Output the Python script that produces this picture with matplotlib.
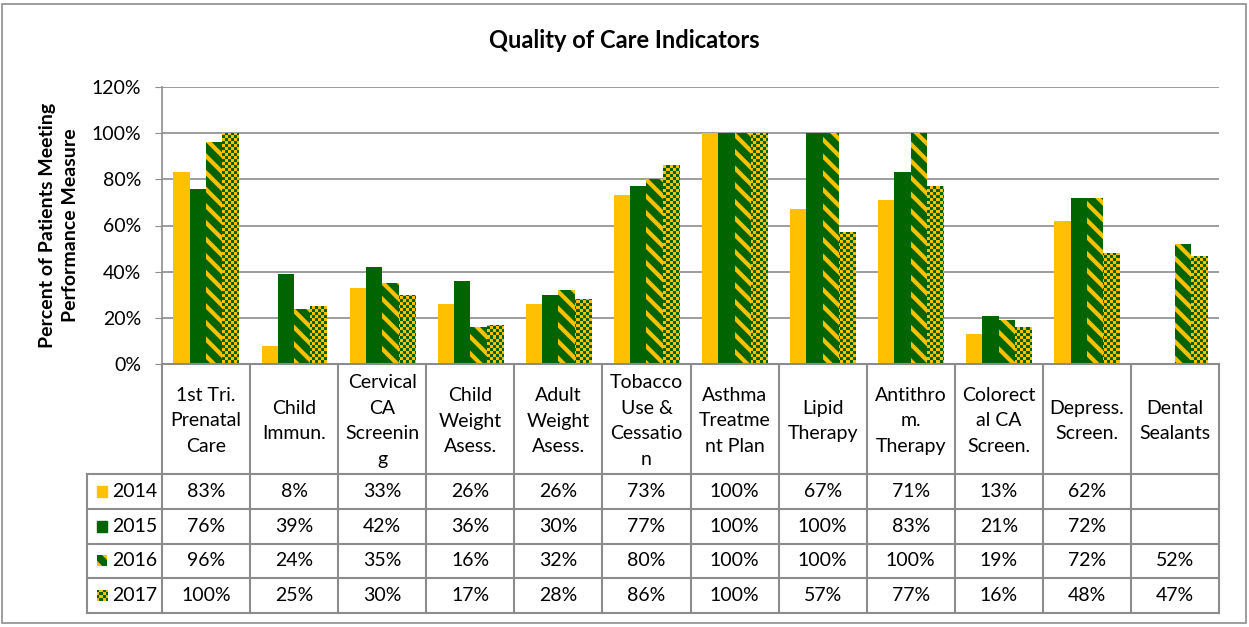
import matplotlib.pyplot as plt
import matplotlib.patches as mpatches
import numpy as np

plt.rcParams['font.family'] = ['Lato', 'DejaVu Sans']
plt.rcParams['hatch.linewidth'] = 3.0

categories = ["1st Tri.\nPrenatal\nCare", "Child\nImmun.", "Cervical\nCA\nScreenin\ng",
              "Child\nWeight\nAsess.", "Adult\nWeight\nAsess.", "Tobacco\nUse &\nCessatio\nn",
              "Asthma\nTreatme\nnt Plan", "Lipid\nTherapy", "Antithro\nm.\nTherapy",
              "Colorect\nal CA\nScreen.", "Depress.\nScreen.", "Dental\nSealants"]
years = ["2014", "2015", "2016", "2017"]
v2014 = [83, 8, 33, 26, 26, 73, 100, 67, 71, 13, 62, None]
v2015 = [76, 39, 42, 36, 30, 77, 100, 100, 83, 21, 72, None]
v2016 = [96, 24, 35, 16, 32, 80, 100, 100, 100, 19, 72, 52]
v2017 = [100, 25, 30, 17, 28, 86, 100, 57, 77, 16, 48, 47]
series = [v2014, v2015, v2016, v2017]

yellow = "#FFC000"
green = "#006400"
styles = [dict(color=yellow), dict(color=green),
          dict(facecolor=green, edgecolor=yellow, hatch="\\\\", linewidth=0),
          dict(color=green, linewidth=0)]

# small checker texture for the 2017 bars
def checker(w, h, cell=3):
    yy, xx = np.mgrid[0:h, 0:w]
    m = ((xx // cell + yy // cell) % 2).astype(bool)
    img = np.zeros((h, w, 3))
    img[m] = [1.0, 0.753, 0.0]
    img[~m] = [0.0, 0.392, 0.0]
    return img

W, H = 1249, 627
fig = plt.figure(figsize=(12.49, 6.27), dpi=100)
fs = 14

# outer frame
fig.patches.append(mpatches.Rectangle((2 / W, 4 / H), 1244 / W, 619 / H, transform=fig.transFigure,
                                      fill=False, edgecolor="#8c8c8c", linewidth=1.2))

# chart area
L, R, T, B = 162, 1219, 87, 364
ax = fig.add_axes([L / W, 1 - B / H, (R - L) / W, (B - T) / H])
n = len(categories)
x = np.arange(n) + 0.5
bw = 0.185
tex = checker(R - L, B - T)
for i, vals in enumerate(series):
    vv = np.array([np.nan if v is None else v for v in vals], dtype=float)
    bars = ax.bar(x + (i - 1.5) * bw, vv, bw, **styles[i], zorder=3)
    if i == 3:
        for b in bars:
            im = ax.imshow(tex, extent=(0, n, 0, 120), aspect="auto",
                           interpolation="nearest", zorder=4)
            im.set_clip_path(b)

ax.set_xlim(0, n)
ax.set_ylim(0, 120)
ax.set_yticks(range(0, 121, 20))
ax.set_yticklabels([f"{t}%" for t in range(0, 121, 20)], fontsize=fs)
ax.set_xticks([])
ax.grid(axis="y", color="#8c8c8c", linewidth=1.2, zorder=0)
ax.tick_params(axis="y", length=5, color="#8c8c8c", pad=10)
for s in ["top", "right", "bottom"]:
    ax.spines[s].set_visible(False)
ax.spines["left"].set_color("#8c8c8c")
ax.spines["left"].set_linewidth(1.2)
ax.set_ylabel("Percent of Patients Meeting\nPerformance Measure", fontsize=14, fontweight="bold",
              labelpad=9, linespacing=1.4)
fig.text(0.5, 1 - 40 / H, "Quality of Care Indicators", ha="center", va="center",
         fontsize=17, fontweight="bold")

# data table below
TL, TB = 87, 613
hdr = 110
rowh = (TB - B - hdr) / 4
tx = fig.add_axes([TL / W, 1 - TB / H, (R - TL) / W, (TB - B) / H])
leg_w = (L - TL) / ((R - L) / n)
lc = "#8c8c8c"
lw = 1.5
tx.plot([0, n], [0, 0], color=lc, lw=lw, clip_on=False)
for r in range(5):
    tx.plot([-leg_w, n], [hdr + r * rowh] * 2, color=lc, lw=lw, clip_on=False)
for c in range(n + 1):
    tx.plot([c, c], [0, TB - B], color=lc, lw=lw, clip_on=False)
tx.plot([-leg_w, -leg_w], [hdr, TB - B], color=lc, lw=lw, clip_on=False)

for c, cat in enumerate(categories):
    tx.text(c + 0.5, hdr / 2 + 2, cat, ha="center", va="center", fontsize=fs, linespacing=1.62)

for r, vals in enumerate(series):
    yc = hdr + (r + 0.5) * rowh
    for c, v in enumerate(vals):
        if v is not None:
            tx.text(c + 0.5, yc, f"{v}%", ha="center", va="center", fontsize=fs)
    sw = tx.add_patch(mpatches.Rectangle((-leg_w + 0.11, yc - 5.5), 0.12, 11, **styles[r]))
    if r == 3:
        im = tx.imshow(checker(R - TL, TB - B), extent=(-leg_w, n, TB - B, 0), aspect="auto",
                       interpolation="nearest", zorder=4)
        im.set_clip_path(sw)
    tx.text(-leg_w + 0.28, yc, years[r], ha="left", va="center", fontsize=fs)
tx.set_xlim(-leg_w, n)
tx.set_ylim(TB - B, 0)
tx.axis("off")

fig.savefig("out.png", dpi=100)
